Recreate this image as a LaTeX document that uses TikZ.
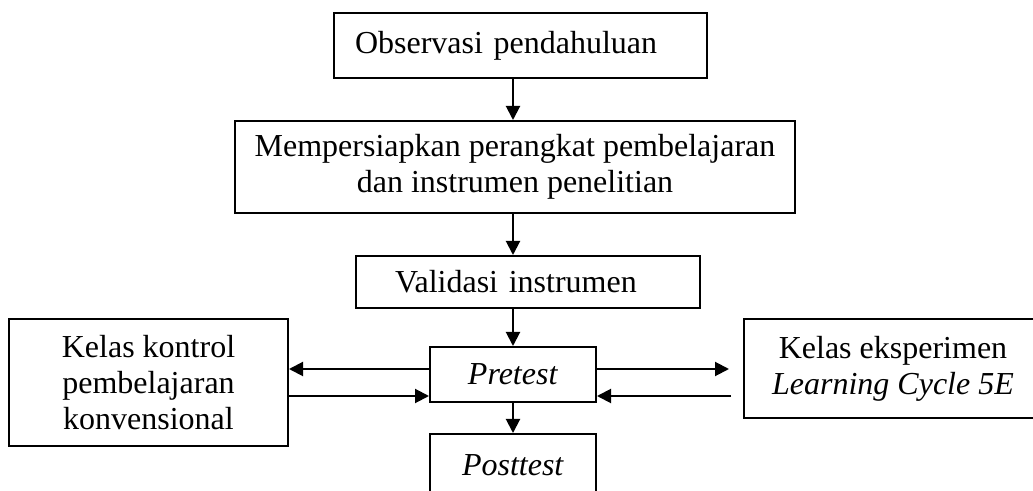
\documentclass[tikz,border=0pt]{standalone}
\usepackage{fontspec}
\setmainfont{Liberation Serif}
\usetikzlibrary{arrows.meta}
\tikzset{
  stage/.style={
    draw,
    line width=1pt,
    inner sep=0pt,
    align=center,
    font=\fontsize{16}{18}\selectfont
  },
  flow/.style={
    line width=1pt,
    -{Triangle[length=7pt,width=7pt]}
  }
}
\begin{document}
\begin{tikzpicture}[x=0.5pt,y=-0.5pt]
\useasboundingbox (0,0) rectangle (1033,491);
\clip (0,0) rectangle (1033,491);
\node[stage,minimum width=186.5pt,minimum height=32.5pt,text width=165.5pt,inner xsep=10.5pt,align=left] (obs) at (520.5,45.5) {Observasi pendahuluan};
\node[stage,minimum width=280pt,minimum height=46pt] (prep) at (515,167) {Mempersiapkan perangkat pembelajaran\\dan instrumen penelitian};
\node[stage,minimum width=172pt,minimum height=26pt,text width=133pt,inner xsep=19.5pt,align=left] (val) at (528,282) {Validasi instrumen};
\node[stage,minimum width=83pt,minimum height=27.5pt] (pre) at (513,374.5) {\textit{Pretest}};
\node[stage,minimum width=83pt,minimum height=31pt] (post) at (513,465) {\textit{Posttest}};
\node[stage,minimum width=139.5pt,minimum height=63.5pt] (kon) at (148.5,382.5) {Kelas kontrol\\pembelajaran\\konvensional};
\node[stage,minimum width=149pt,minimum height=49.5pt] (eks) at (893,368.5) {Kelas eksperimen\\\textit{Learning Cycle 5E}};
% levels of the side arrows
\coordinate (hi) at (0,369);
\coordinate (lo) at (0,396);
\foreach \from/\to in {obs/prep, prep/val, val/pre, pre/post} {
  \draw[flow] (\from.south -| pre) -- (\to.north -| pre);
}
\draw[flow] (pre.west |- hi) -- (kon.east |- hi);
\draw[flow] (kon.east |- lo) -- (pre.west |- lo);
\draw[flow,shorten >=7pt] (pre.east |- hi) -- (eks.west |- hi);
\draw[flow,shorten <=6pt] (eks.west |- lo) -- (pre.east |- lo);
\end{tikzpicture}
\end{document}
